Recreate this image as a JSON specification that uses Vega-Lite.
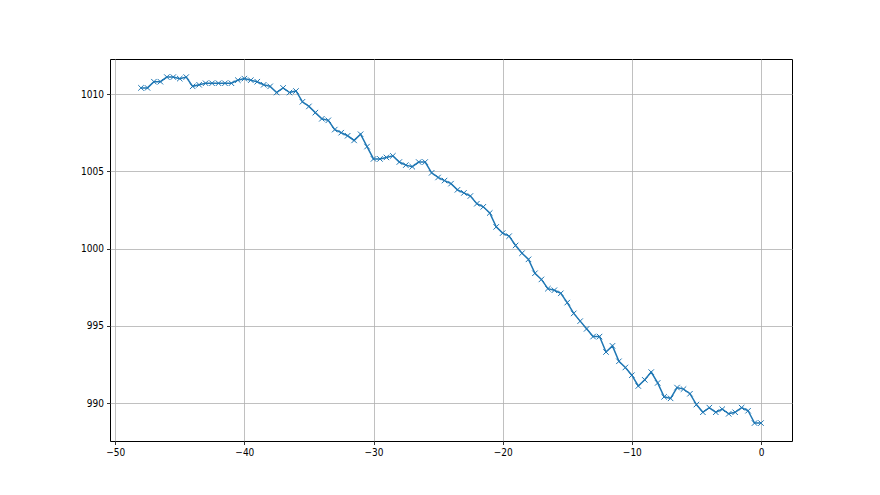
{
  "$schema": "https://vega.github.io/schema/vega-lite/v6.json",
  "width": 682,
  "height": 382,
  "autosize": {"type": "none"},
  "padding": {"left": 110, "top": 59, "right": 88, "bottom": 54},
  "background": "white",
  "config": {
    "view": {"stroke": "black", "strokeWidth": 1},
    "axis": {
      "domain": false,
      "grid": true,
      "gridColor": "#b0b0b0",
      "gridWidth": 0.8,
      "tickColor": "black",
      "tickSize": 3.5,
      "tickWidth": 0.8,
      "labelColor": "black",
      "labelFont": "Liberation Sans Narrow, DejaVu Sans Condensed, sans-serif",
      "labelFontSize": 10,
      "labelPadding": 3,
      "title": null
    }
  },
  "data": {
    "values": [
      {"t": -48, "p": 1010.4}, {"t": -47.5, "p": 1010.4}, {"t": -47, "p": 1010.8}, {"t": -46.5, "p": 1010.8},
      {"t": -46, "p": 1011.1}, {"t": -45.5, "p": 1011.1}, {"t": -45, "p": 1011.0}, {"t": -44.5, "p": 1011.1},
      {"t": -44, "p": 1010.5}, {"t": -43.5, "p": 1010.6}, {"t": -43, "p": 1010.7}, {"t": -42.5, "p": 1010.7},
      {"t": -42, "p": 1010.7}, {"t": -41.5, "p": 1010.7}, {"t": -41, "p": 1010.7}, {"t": -40.5, "p": 1010.9},
      {"t": -40, "p": 1011.0}, {"t": -39.5, "p": 1010.9}, {"t": -39, "p": 1010.8}, {"t": -38.5, "p": 1010.6},
      {"t": -38, "p": 1010.5}, {"t": -37.5, "p": 1010.1}, {"t": -37, "p": 1010.4}, {"t": -36.5, "p": 1010.1},
      {"t": -36, "p": 1010.2}, {"t": -35.5, "p": 1009.5}, {"t": -35, "p": 1009.2}, {"t": -34.5, "p": 1008.8},
      {"t": -34, "p": 1008.4}, {"t": -33.5, "p": 1008.3}, {"t": -33, "p": 1007.7}, {"t": -32.5, "p": 1007.5},
      {"t": -32, "p": 1007.3}, {"t": -31.5, "p": 1007.0}, {"t": -31, "p": 1007.4}, {"t": -30.5, "p": 1006.6},
      {"t": -30, "p": 1005.8}, {"t": -29.5, "p": 1005.8}, {"t": -29, "p": 1005.9}, {"t": -28.5, "p": 1006.0},
      {"t": -28, "p": 1005.6}, {"t": -27.5, "p": 1005.4}, {"t": -27, "p": 1005.3}, {"t": -26.5, "p": 1005.6},
      {"t": -26, "p": 1005.6}, {"t": -25.5, "p": 1004.9}, {"t": -25, "p": 1004.6}, {"t": -24.5, "p": 1004.4},
      {"t": -24, "p": 1004.2}, {"t": -23.5, "p": 1003.8}, {"t": -23, "p": 1003.6}, {"t": -22.5, "p": 1003.4},
      {"t": -22, "p": 1002.9}, {"t": -21.5, "p": 1002.7}, {"t": -21, "p": 1002.3}, {"t": -20.5, "p": 1001.4},
      {"t": -20, "p": 1001.0}, {"t": -19.5, "p": 1000.8}, {"t": -19, "p": 1000.2}, {"t": -18.5, "p": 999.7},
      {"t": -18, "p": 999.3}, {"t": -17.5, "p": 998.4}, {"t": -17, "p": 998.0}, {"t": -16.5, "p": 997.4},
      {"t": -16, "p": 997.3}, {"t": -15.5, "p": 997.1}, {"t": -15, "p": 996.5}, {"t": -14.5, "p": 995.8},
      {"t": -14, "p": 995.3}, {"t": -13.5, "p": 994.8}, {"t": -13, "p": 994.3}, {"t": -12.5, "p": 994.3},
      {"t": -12, "p": 993.3}, {"t": -11.5, "p": 993.7}, {"t": -11, "p": 992.7}, {"t": -10.5, "p": 992.3},
      {"t": -10, "p": 991.8}, {"t": -9.5, "p": 991.1}, {"t": -9, "p": 991.5}, {"t": -8.5, "p": 992.0},
      {"t": -8, "p": 991.3}, {"t": -7.5, "p": 990.4}, {"t": -7, "p": 990.3}, {"t": -6.5, "p": 991.0},
      {"t": -6, "p": 990.9}, {"t": -5.5, "p": 990.6}, {"t": -5, "p": 989.9}, {"t": -4.5, "p": 989.4},
      {"t": -4, "p": 989.7}, {"t": -3.5, "p": 989.4}, {"t": -3, "p": 989.6}, {"t": -2.5, "p": 989.3},
      {"t": -2, "p": 989.4}, {"t": -1.5, "p": 989.7}, {"t": -1, "p": 989.5}, {"t": -0.5, "p": 988.7},
      {"t": 0, "p": 988.7}
    ]
  },
  "encoding": {
    "x": {
      "field": "t", "type": "quantitative",
      "scale": {"domain": [-50.4, 2.4], "nice": false, "zero": false},
      "axis": {"values": [-50, -40, -30, -20, -10, 0], "labelFlush": false, "format": "d"}
    },
    "y": {
      "field": "p", "type": "quantitative",
      "scale": {"domain": [987.54, 1012.27], "nice": false, "zero": false},
      "axis": {"values": [990, 995, 1000, 1005, 1010], "labelFlush": false, "format": "d"}
    }
  },
  "layer": [
    {"mark": {"type": "line", "color": "#1f77b4", "strokeWidth": 1.5, "clip": true}},
    {"mark": {"type": "point", "shape": "M-1,-1L1,1M-1,1L1,-1", "filled": false, "stroke": "#1f77b4", "strokeWidth": 1, "size": 30, "opacity": 1}}
  ]
}
